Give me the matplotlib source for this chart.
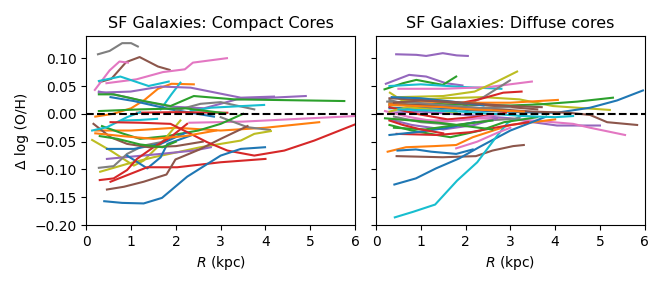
import matplotlib
matplotlib.use("Agg")
import matplotlib.pyplot as plt

# ---- Compact cores: radius (kpc) and offset Delta log(O/H) per galaxy ----
compact_r = [
    [0.26, 0.52, 0.80, 1.0, 1.15],
    [0.30, 0.56, 0.89, 1.19, 1.60, 1.86],
    [0.19, 0.52, 0.74, 0.93],
    [0.45, 1.12, 1.71, 2.2, 2.38, 3.14],
    [0.28, 0.76, 1.39, 1.84],
    [0.2, 0.6, 1.0, 1.3, 1.6, 1.9, 2.4],
    [1.66, 1.9, 2.1],
    [0.28, 0.99, 1.66, 2.33, 3.45, 4.19],
    [0.28, 0.9, 1.3, 1.88, 2.63, 3.36, 4.9],
    [0.28, 0.61, 1.28, 1.88, 2.4, 3.3, 5.76],
    [0.54, 1.06, 1.88, 2.85],
    [2.0, 2.55, 3.0, 3.75],
    [2.33, 2.78, 3.97],
    [1.13, 2.0, 3.15],
    [0.28, 1.2, 2.2, 3.1],
    [0.2, 1.0, 2.0, 3.0, 4.0, 5.2],
    [2.3, 3.5, 4.5, 6.0],
    [3.0, 3.6, 4.1],
    [0.35, 0.8, 1.2, 1.8, 2.5, 3.0, 3.5],
    [0.31, 0.91, 1.5, 2.03, 2.55, 3.0, 3.45, 3.75, 4.12],
    [0.13, 0.54, 1.06, 1.28, 1.66, 2.1],
    [0.46, 1.66, 2.4, 2.78],
    [0.28, 0.61, 0.91, 1.28, 1.66, 1.88],
    [0.46, 1.06, 1.66, 2.25],
    [0.91, 1.36, 1.66, 1.81, 2.33],
    [0.3, 0.61, 0.91, 1.13, 1.5, 1.88, 2.25],
    [0.54, 1.36, 2.03, 3.0, 4.0],
    [0.16, 0.54, 0.91, 1.4, 2.0, 2.6],
    [0.46, 0.84, 1.28, 1.79, 1.99, 2.5, 3.0, 3.6],
    [0.13, 0.46, 0.91, 1.2],
    [0.8, 1.2, 1.58],
    [0.54, 1.2, 1.88, 2.33, 2.7, 3.15, 3.75, 4.42, 5.09, 6.0],
    [0.4, 0.8, 1.28, 1.69, 2.25, 3.0, 3.45, 3.99],
    [0.2, 0.8, 1.5, 2.2, 2.9],
    [0.3, 0.7, 1.2, 1.7, 2.0],
]
compact_dz = [
    [0.107, 0.113, 0.127, 0.127, 0.121],
    [0.057, 0.063, 0.093, 0.102, 0.085, 0.079],
    [0.043, 0.078, 0.094, 0.092],
    [0.055, 0.062, 0.075, 0.080, 0.092, 0.100],
    [0.059, 0.067, 0.050, 0.058],
    [-0.005, 0.0, 0.010, 0.025, 0.045, 0.054, 0.053],
    [0.008, 0.035, 0.056],
    [0.038, 0.040, 0.049, 0.047, 0.029, 0.031],
    [0.040, 0.030, 0.022, 0.013, 0.010, 0.026, 0.032],
    [0.035, 0.035, 0.023, 0.014, 0.032, 0.026, 0.023],
    [0.030, 0.023, 0.008, -0.005],
    [0.006, 0.018, 0.021, 0.008],
    [0.005, 0.011, 0.016],
    [0.002, 0.003, 0.002],
    [0.005, 0.008, 0.010, 0.001],
    [-0.030, -0.030, -0.025, -0.030, -0.025, -0.015],
    [-0.016, -0.014, -0.010, -0.004],
    [-0.006, -0.024, -0.029],
    [-0.022, -0.035, -0.045, -0.040, -0.030, -0.018, 0.0],
    [-0.104, -0.090, -0.078, -0.069, -0.060, -0.054, -0.048, -0.036, -0.031],
    [-0.047, -0.066, -0.093, -0.084, -0.054, -0.012],
    [-0.081, -0.072, -0.066, -0.060],
    [-0.097, -0.094, -0.072, -0.057, -0.051, -0.042],
    [-0.063, -0.063, -0.054, -0.033],
    [-0.075, -0.098, -0.078, -0.054, -0.039],
    [-0.119, -0.116, -0.101, -0.081, -0.060, -0.042, -0.018],
    [-0.122, -0.096, -0.096, -0.087, -0.081],
    [-0.018, -0.042, -0.054, -0.060, -0.058, -0.050],
    [-0.136, -0.131, -0.122, -0.109, -0.082, -0.065, -0.045, -0.022],
    [-0.030, -0.024, -0.006, 0.003],
    [-0.012, -0.011, -0.009],
    [-0.015, -0.016, -0.018, -0.036, -0.051, -0.066, -0.075, -0.066, -0.048, -0.019],
    [-0.157, -0.160, -0.161, -0.151, -0.113, -0.075, -0.063, -0.060],
    [-0.035, -0.040, -0.045, -0.040, -0.030],
    [-0.040, -0.045, -0.055, -0.060, -0.050],
]
compact_colors = [
    "tab:gray", "tab:brown", "tab:pink", "tab:pink", "tab:cyan", "tab:orange",
    "tab:cyan", "tab:purple", "tab:purple", "tab:green", "tab:blue", "tab:gray",
    "tab:cyan", "tab:red", "tab:green", "tab:orange", "tab:pink", "tab:gray",
    "tab:green", "tab:olive", "tab:olive", "tab:purple", "tab:gray", "tab:blue",
    "tab:blue", "tab:red", "tab:red", "tab:brown", "tab:brown", "tab:cyan",
    "tab:cyan", "tab:red", "tab:blue", "tab:orange", "tab:green",
]

# ---- Diffuse cores ----
diffuse_r = [
    [0.45, 0.9, 1.12, 1.49, 1.8, 2.05],
    [0.22, 0.74, 1.12, 1.56, 1.93],
    [0.19, 0.6, 0.9, 1.49, 1.79],
    [0.3, 1.0, 2.0, 2.8],
    [0.5, 1.5, 2.5, 3.48],
    [0.5, 1.5, 2.2, 2.7, 3.15],
    [0.31, 0.6, 1.5, 2.4, 3.2, 3.95, 5.22],
    [0.3, 1.0, 1.72, 2.4, 2.99],
    [1.0, 1.8, 2.3, 2.84, 3.25],
    [0.3, 1.2, 2.2, 3.0, 3.66, 4.5, 5.29],
    [0.3, 1.2, 2.2, 3.2, 4.04, 4.78, 5.38, 5.96],
    [0.3, 1.3, 2.4, 3.5, 4.3, 4.78, 5.16, 5.83],
    [0.3, 1.0, 2.0, 3.0, 3.5, 4.04, 5.0],
    [0.4, 1.3, 2.2, 3.2, 4.4, 4.78, 5.56],
    [0.3, 1.0, 2.0, 3.0, 4.06],
    [0.3, 1.0, 2.0, 3.0, 3.6],
    [0.26, 0.67, 1.3, 1.79, 2.16, 3.0, 4.0],
    [0.48, 0.89, 1.23, 1.79, 2.16],
    [0.46, 1.49, 2.23, 2.6, 3.06, 3.3],
    [0.41, 0.89, 1.34, 1.86, 2.3, 3.0, 3.8],
    [0.42, 0.83, 1.32, 1.81, 2.26, 2.68, 2.94, 3.24],
    [1.79, 2.26, 2.71, 3.0],
    [0.3, 0.8, 1.36, 1.66, 2.33, 2.86, 3.6],
    [0.46, 1.36, 2.11, 2.86, 3.4],
    [0.4, 1.0, 1.8, 2.5, 3.2],
    [0.3, 0.9, 1.6, 2.3, 2.9],
    [0.3, 0.8, 1.5, 2.2, 2.7],
    [0.35, 1.0, 1.7, 2.4],
    [0.2, 0.7, 1.4, 2.1, 2.8],
    [0.3, 1.0, 1.6, 2.2],
    [0.25, 0.9, 1.6, 2.4, 3.0],
    [0.4, 1.1, 1.8, 2.6],
    [0.3, 0.7, 1.2, 1.8],
    [0.3, 0.6, 1.0, 1.5],
    [0.3, 0.9, 1.5, 2.1, 2.7, 3.3],
    [0.5, 1.2, 1.9, 2.6, 3.3, 4.0, 4.4],
    [0.2, 0.8, 1.4, 2.0, 2.6],
    [0.4, 1.0, 1.6, 2.3, 3.0, 3.7],
]
diffuse_dz = [
    [0.107, 0.106, 0.104, 0.109, 0.105, 0.104],
    [0.054, 0.070, 0.067, 0.055, 0.051],
    [0.044, 0.055, 0.061, 0.052, 0.067],
    [0.050, 0.053, 0.048, 0.045],
    [0.045, 0.045, 0.048, 0.058],
    [0.030, 0.032, 0.040, 0.058, 0.076],
    [0.038, 0.023, 0.028, 0.030, 0.026, 0.014, 0.007],
    [0.025, 0.010, 0.005, 0.030, 0.060],
    [0.010, 0.018, 0.026, 0.038, 0.040],
    [0.015, 0.018, 0.016, 0.015, 0.017, 0.022, 0.029],
    [0.010, 0.012, 0.006, 0.003, 0.002, 0.011, 0.024, 0.042],
    [0.018, 0.015, 0.010, 0.004, 0.002, -0.002, -0.015, -0.020],
    [0.002, 0.004, -0.002, -0.008, -0.015, -0.021, -0.021],
    [-0.010, -0.012, -0.008, -0.010, -0.018, -0.025, -0.038],
    [0.020, 0.022, 0.020, 0.020, 0.025],
    [0.028, 0.025, 0.018, 0.012, 0.008],
    [-0.068, -0.060, -0.058, -0.056, -0.042, -0.020, -0.010],
    [-0.066, -0.064, -0.068, -0.072, -0.064],
    [-0.076, -0.078, -0.076, -0.066, -0.058, -0.056],
    [-0.127, -0.116, -0.098, -0.080, -0.060, -0.030, -0.005],
    [-0.186, -0.176, -0.163, -0.120, -0.087, -0.042, -0.016, -0.004],
    [-0.062, -0.050, -0.034, -0.025],
    [-0.020, -0.030, -0.038, -0.042, -0.030, -0.015, -0.006],
    [-0.036, -0.038, -0.033, -0.022, -0.015],
    [-0.005, -0.015, -0.020, -0.012, -0.008],
    [0.012, 0.000, -0.010, -0.005, 0.002],
    [-0.010, -0.020, -0.028, -0.020, -0.008],
    [0.030, 0.028, 0.022, 0.015],
    [0.005, -0.005, -0.015, -0.010, 0.000],
    [-0.038, -0.032, -0.025, -0.015],
    [0.022, 0.020, 0.015, 0.010, 0.012],
    [-0.025, -0.028, -0.020, -0.012],
    [0.004, 0.012, 0.008, 0.002],
    [-0.012, -0.020, -0.028, -0.035],
    [0.016, 0.014, 0.012, 0.008, 0.006, 0.004],
    [0.008, 0.006, 0.004, 0.000, -0.004, -0.006, -0.004],
    [-0.008, -0.012, -0.016, -0.022, -0.028],
    [0.020, 0.024, 0.022, 0.018, 0.014, 0.012],
]
diffuse_colors = [
    "tab:purple", "tab:purple", "tab:green", "tab:cyan", "tab:pink", "tab:olive",
    "tab:olive", "tab:gray", "tab:red", "tab:green", "tab:blue", "tab:brown",
    "tab:purple", "tab:pink", "tab:orange", "tab:brown", "tab:orange", "tab:blue",
    "tab:brown", "tab:blue", "tab:cyan", "tab:pink", "tab:green", "tab:red",
    "tab:gray", "tab:red", "tab:purple", "tab:blue", "tab:pink", "tab:blue",
    "tab:gray", "tab:green", "tab:olive", "tab:red", "tab:orange", "tab:cyan",
    "tab:green", "tab:brown",
]

panels = [
    ("SF Galaxies: Compact Cores", compact_r, compact_dz, compact_colors),
    ("SF Galaxies: Diffuse cores", diffuse_r, diffuse_dz, diffuse_colors),
]

fig, axes = plt.subplots(1, 2, figsize=(6.64, 2.85), dpi=100, sharey=True)
fig.subplots_adjust(left=0.13, right=0.971, top=0.874, bottom=0.21, wspace=0.078)

for ax, (title, rs, dzs, cols) in zip(axes, panels):
    for r, dz, c in zip(rs, dzs, cols):
        ax.plot(r, dz, color=c, lw=1.5)
    ax.axhline(0, color="black", ls="--", lw=1.5)
    ax.set_title(title, fontsize=11.5)
    ax.set_xlabel("$R$ (kpc)", fontsize=10)
    ax.set_xlim(0, 6)
    ax.set_ylim(-0.2, 0.14)
    ax.set_yticks([-0.20, -0.15, -0.10, -0.05, 0.00, 0.05, 0.10])
    ax.tick_params(labelsize=10)

axes[0].set_ylabel("Δ log (O/H)", fontsize=10)

plt.savefig("out.png", dpi=100)
plt.close()
